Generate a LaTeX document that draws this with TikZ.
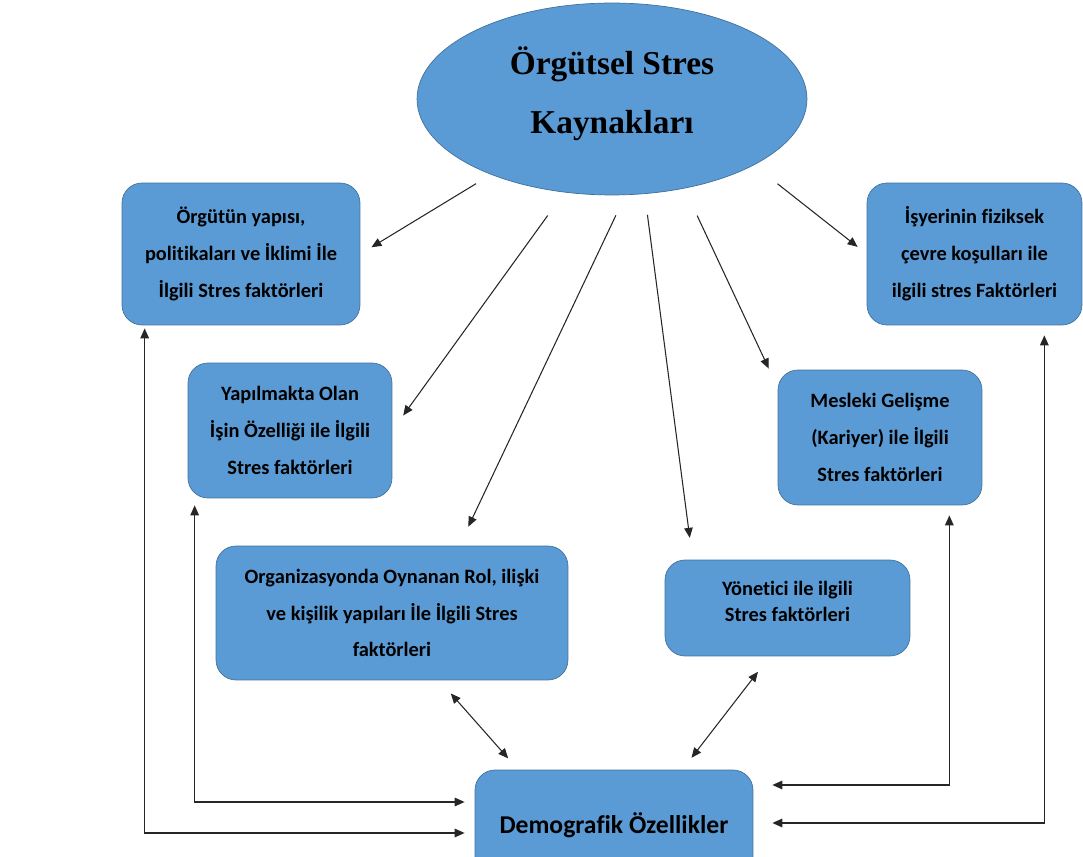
\documentclass[tikz,border=0pt]{standalone}
\usepackage{fontspec}
\setmainfont[Ligatures=NoCommon]{Carlito}
\newfontfamily\titlefont{Liberation Serif}
\usetikzlibrary{arrows.meta,shapes.geometric,calc}
\definecolor{boxblue}{HTML}{5B9BD5}
\definecolor{boxedge}{HTML}{41719C}

\begin{document}
\begin{tikzpicture}[x=0.02cm,y=-0.02cm,>={Triangle[length=2mm,width=1.7mm]},
 box/.style={draw=boxedge,fill=boxblue,rounded corners=0.4cm,align=center,inner sep=0pt,
  font=\bfseries\fontsize{11.6}{21}\selectfont},
 link/.style={line width=0.6pt,draw=black!85}]
\useasboundingbox (0,0) rectangle (1083,857);
\clip (0,0) rectangle (1083,857);
\node[ellipse,draw=boxedge,fill=boxblue,minimum width=7.8cm,minimum height=3.84cm,inner sep=0pt,align=center,
 font=\titlefont\bfseries\fontsize{19}{33.5}\selectfont](k) at (612,99){Örgütsel Stres\\Kaynakları\\[-23pt]};
\node[box,minimum width=4.76cm,minimum height=2.84cm](a) at (241,254){Örgütün yapısı,\\
 politikaları ve İklimi İle\\İlgili Stres faktörleri};
\node[box,minimum width=4.3cm,minimum height=2.84cm](b) at (974.5,254){İşyerinin fiziksek\\
 çevre koşulları ile\\ilgili stres Faktörleri};
\node[box,minimum width=4.08cm,minimum height=2.7cm](c) at (290,430.5){Yapılmakta Olan\\
 İşin Özelliği ile İlgili\\Stres faktörleri};
\node[box,minimum width=4.08cm,minimum height=2.7cm](d) at (880,437.5){Mesleki Gelişme\\
 (Kariyer) ile İlgili\\Stres faktörleri};
\node[box,minimum width=7.04cm,minimum height=2.68cm](e) at (392,613){Organizasyonda Oynanan Rol, ilişki\\
 ve kişilik yapıları İle İlgili Stres\\faktörleri};
\node[box,minimum width=4.9cm,minimum height=1.92cm,font=\bfseries\fontsize{11.6}{14.5}\selectfont](f) at (787.5,608){Yönetici ile ilgili\\
 Stres faktörleri\\[-7pt]};
\node[box,minimum width=5.56cm,minimum height=2.2cm,font=\bfseries\fontsize{14.6}{16}\selectfont](g) at (614,825){Demografik Özellikler};
% ellipse to boxes
\draw[link,->,shorten <=0.35cm,shorten >=0.26cm](k.212)--(a.east);
\draw[link,->,shorten <=0.57cm,shorten >=0.37cm](k.243)--(c.east);
\draw[link,->,shorten <=0.45cm,shorten >=0.42cm](k.278)--(e.45);
\draw[link,->,shorten <=0.42cm,shorten >=0.44cm](k.289)--(f.153);
\draw[link,->,shorten <=0.6cm,shorten >=0.42cm](k.309)--(d.154);
\draw[link,->,shorten <=0.6cm,shorten >=0.23cm](k.335)--(b.west);
% demografik links
\draw[link,<->,shorten <=0.35cm,shorten >=0.3cm](e.305)--(g.150);
\draw[link,<->,shorten <=0.39cm,shorten >=0.3cm](f.250)--(g.39);
\draw[link,<->,line width=0.8pt]($(a.south west)+(23,3)$)|-($(g.west)+(-10,8)$);
\draw[link,<->,line width=0.8pt]($(c.south west)+(7,7)$)|-($(g.west)+(-10,-23)$);
\draw[link,<->,line width=0.8pt]($(d.south east)+(-33,10)$)|-($(g.east)+(19,-40)$);
\draw[link,<->,line width=0.8pt]($(b.south east)+(-38,10)$)|-($(g.east)+(19,-2)$);
\end{tikzpicture}
\end{document}
